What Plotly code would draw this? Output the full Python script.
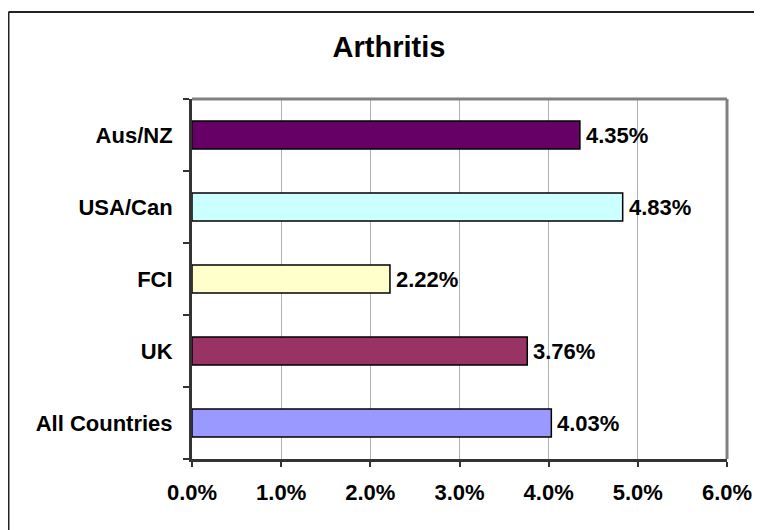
import plotly.graph_objects as go

categories = ["All Countries", "UK", "FCI", "USA/Can", "Aus/NZ"]
values = [4.03, 3.76, 2.22, 4.83, 4.35]
bar_colors = ["#9999FF", "#993366", "#FFFFCC", "#CCFFFF", "#660066"]
x_ticks = [0, 1, 2, 3, 4, 5, 6]
x_tick_labels = ["0.0%", "1.0%", "2.0%", "3.0%", "4.0%", "5.0%", "6.0%"]
title_text = "Arthritis"

FONT = "Liberation Sans, Arial, sans-serif"
TICK_SIZE = 22

fig = go.Figure()
fig.add_trace(go.Bar(
    y=categories, x=values, orientation="h",
    marker=dict(color=bar_colors, line=dict(color="#000000", width=1.5)),
    width=0.39, showlegend=False, hoverinfo="skip",
))

annotations = []
for c, v in zip(categories, values):
    annotations.append(dict(
        x=v, y=c, xref="x", yref="y", text=f"<b>{v:.2f}%</b>", showarrow=False,
        xanchor="left", yanchor="middle", xshift=4,
        font=dict(family=FONT, size=TICK_SIZE, color="#000000"),
    ))

# plot area in figure px: x 184..719, y 91..451
PW, PH = 535.0, 360.0
bx = (0.5 - 184) / PW
by = (451 - 4) / PH

shapes = [
    dict(type="line", xref="paper", yref="paper", x0=0, y0=1, x1=1, y1=1,
         line=dict(color="#808080", width=3)),
    dict(type="line", xref="paper", yref="paper", x0=1, y0=0, x1=1, y1=1,
         line=dict(color="#808080", width=3)),
    dict(type="line", xref="paper", yref="paper", x0=bx, y0=by, x1=1.12, y1=by,
         line=dict(color="#222222", width=2)),
    dict(type="line", xref="paper", yref="paper", x0=bx, y0=by, x1=bx, y1=-0.25,
         line=dict(color="#222222", width=2)),
]

fig.update_layout(
    width=762, height=530,
    margin=dict(l=184, r=43, t=91, b=79),
    paper_bgcolor="#FFFFFF", plot_bgcolor="#FFFFFF",
    title=dict(text=f"<b>{title_text}</b>", x=0.5, xref="container", xanchor="center",
               y=1 - 39 / 530, yref="container", yanchor="middle",
               font=dict(family=FONT, size=29, color="#000000")),
    font=dict(family=FONT, color="#000000"),
    annotations=annotations,
    shapes=shapes,
)

fig.update_xaxes(
    range=[0, 6], tickvals=x_ticks, ticktext=[f"<b>{t}</b>" for t in x_tick_labels],
    tickfont=dict(family=FONT, size=TICK_SIZE, color="#000000"),
    showgrid=True, gridcolor="#B0B0B0", gridwidth=1,
    showline=True, linecolor="#333333", linewidth=3,
    ticks="outside", ticklen=5, tickwidth=1.5, tickcolor="#333333",
    ticklabelstandoff=7, zeroline=False, fixedrange=True,
)
fig.update_yaxes(
    categoryorder="array", categoryarray=categories,
    ticktext=[f"<b>{c}</b>" for c in categories], tickvals=categories,
    tickfont=dict(family=FONT, size=TICK_SIZE, color="#000000"),
    showgrid=False, showline=True, linecolor="#333333", linewidth=3,
    ticks="outside", ticklen=6, tickwidth=1.5, tickcolor="#333333",
    tickson="boundaries", ticklabelstandoff=12, range=[-0.5, 4.5], fixedrange=True,
)

fig.write_html("out.html")
